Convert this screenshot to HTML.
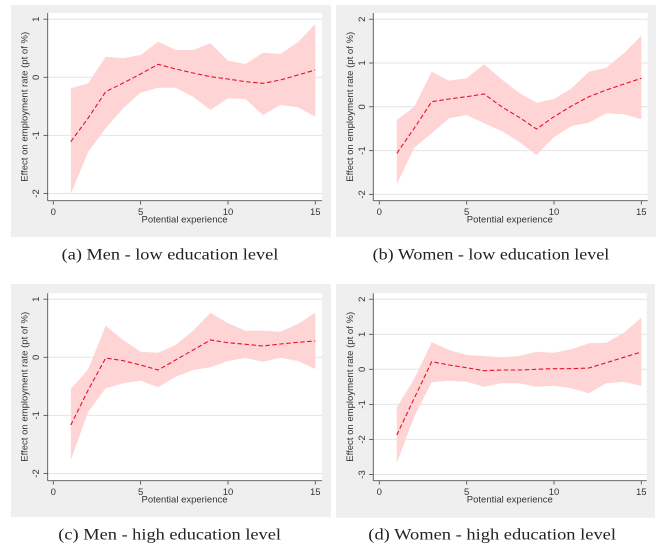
<!DOCTYPE html>
<html>
<head>
<meta charset="utf-8">
<style>
  html,body{margin:0;padding:0;background:#ffffff;}
  svg{display:block;}
  .tk{font-family:"Liberation Sans",Arial,sans-serif;font-size:9.5px;fill:#333;}
  .cap{font-family:"Liberation Serif","Times New Roman",serif;font-size:15.5px;fill:#222;}
  .band{fill:#ffd4d4;stroke:none;}
  .ctr{fill:none;stroke:#e8102a;stroke-width:1.1;stroke-dasharray:4.5 2.5;}
  .grid{stroke:#e4e4e4;stroke-width:1;}
  .ax{stroke:#555;stroke-width:0.9;fill:none;}
</style>
</head>
<body>
<svg width="665" height="552" viewBox="0 0 665 552" xmlns="http://www.w3.org/2000/svg">
  <rect x="0" y="0" width="665" height="552" fill="#ffffff"/>

  <!-- ================= Panel A ================= -->
  <rect x="11" y="5" width="320" height="232" fill="#efefef"/>
  <rect x="47.7" y="13" width="274.3" height="187.5" fill="#ffffff"/>
  <g class="grid">
    <line x1="47.7" y1="19.2" x2="322" y2="19.2"/>
    <line x1="47.7" y1="77.3" x2="322" y2="77.3"/>
    <line x1="47.7" y1="135.4" x2="322" y2="135.4"/>
    <line x1="47.7" y1="193.5" x2="322" y2="193.5"/>
  </g>
  <polygon class="band" points="70.8,88.3 88.2,83.3 105.7,56.7 123.2,58.3 140.6,55 158.1,41.7 175.6,50 193.1,50 210.5,43.3 228,60.7 245.5,64 262.9,52.7 280.4,54 297.9,42.3 315.3,24 315.3,116.7 297.9,107.3 280.4,105 262.9,115 245.5,99 228,98.3 210.5,110 193.1,96.7 175.6,87.7 158.1,87.7 140.6,92.7 123.2,108.3 105.7,128.3 88.2,151.7 70.8,194"/>
  <polyline class="ctr" points="70.8,141.7 88.2,118 105.7,91.7 123.2,83 140.6,74 158.1,64.3 175.6,69 193.1,73 210.5,76.7 228,79 245.5,81.7 262.9,83.3 280.4,80 297.9,75 315.3,70"/>
  <g class="ax">
    <line x1="47.7" y1="13" x2="47.7" y2="200.7"/>
    <line x1="43.5" y1="19.2" x2="47.7" y2="19.2"/>
    <line x1="43.5" y1="77.3" x2="47.7" y2="77.3"/>
    <line x1="43.5" y1="135.4" x2="47.7" y2="135.4"/>
    <line x1="43.5" y1="193.5" x2="47.7" y2="193.5"/>
    <line x1="47.7" y1="200.7" x2="322" y2="200.7"/>
    <line x1="53.3" y1="200.7" x2="53.3" y2="204.5"/>
    <line x1="140.6" y1="200.7" x2="140.6" y2="204.5"/>
    <line x1="228" y1="200.7" x2="228" y2="204.5"/>
    <line x1="315.3" y1="200.7" x2="315.3" y2="204.5"/>
  </g>
  <g class="tk" text-anchor="middle">
    <text x="53.3" y="215">0</text>
    <text x="140.6" y="215">5</text>
    <text x="228" y="215">10</text>
    <text x="315.3" y="215">15</text>
    <text x="184.5" y="222.5" textLength="86" lengthAdjust="spacingAndGlyphs">Potential experience</text>
    <text transform="translate(39,19.2) rotate(-90)">1</text>
    <text transform="translate(39,77.3) rotate(-90)">0</text>
    <text transform="translate(39,135.4) rotate(-90)">-1</text>
    <text transform="translate(39,193.5) rotate(-90)">-2</text>
    <text transform="translate(27.5,106.8) rotate(-90)" textLength="150" lengthAdjust="spacingAndGlyphs">Effect on employment rate (pt of %)</text>
  </g>
  <text class="cap" x="61.7" y="259.5" textLength="216.6" lengthAdjust="spacingAndGlyphs">(a) Men - low education level</text>

  <!-- ================= Panel B ================= -->
  <rect x="336" y="5" width="320" height="232" fill="#efefef"/>
  <rect x="373.3" y="13" width="274.4" height="187.5" fill="#ffffff"/>
  <g class="grid">
    <line x1="373.3" y1="19.2" x2="647.7" y2="19.2"/>
    <line x1="373.3" y1="63" x2="647.7" y2="63"/>
    <line x1="373.3" y1="106.8" x2="647.7" y2="106.8"/>
    <line x1="373.3" y1="150.6" x2="647.7" y2="150.6"/>
    <line x1="373.3" y1="194.4" x2="647.7" y2="194.4"/>
  </g>
  <polygon class="band" points="396.8,120 414.2,106.7 431.7,71.7 449.2,80.7 466.6,78.3 484.1,64.3 501.6,79.3 519.1,92.7 536.5,102.7 554,99 571.5,88.3 588.9,71.7 606.4,67.7 623.9,53.3 641.3,35.7 641.3,119.3 623.9,114.3 606.4,113.3 588.9,122.7 571.5,126 554,137.3 536.5,155 519.1,141.7 501.6,131 484.1,123.3 466.6,115 449.2,118.3 431.7,133.3 414.2,147.7 396.8,184.3"/>
  <polyline class="ctr" points="396.8,153.3 414.2,128.3 431.7,101.7 449.2,99 466.6,96.7 484.1,94 501.6,106.7 519.1,117.3 536.5,129 554,116.7 571.5,106 588.9,96.7 606.4,90 623.9,84 641.3,78.3"/>
  <g class="ax">
    <line x1="373.3" y1="13" x2="373.3" y2="200.7"/>
    <line x1="369.1" y1="19.2" x2="373.3" y2="19.2"/>
    <line x1="369.1" y1="63" x2="373.3" y2="63"/>
    <line x1="369.1" y1="106.8" x2="373.3" y2="106.8"/>
    <line x1="369.1" y1="150.6" x2="373.3" y2="150.6"/>
    <line x1="369.1" y1="194.4" x2="373.3" y2="194.4"/>
    <line x1="373.3" y1="200.7" x2="647.7" y2="200.7"/>
    <line x1="379.3" y1="200.7" x2="379.3" y2="204.5"/>
    <line x1="466.7" y1="200.7" x2="466.7" y2="204.5"/>
    <line x1="554" y1="200.7" x2="554" y2="204.5"/>
    <line x1="641.3" y1="200.7" x2="641.3" y2="204.5"/>
  </g>
  <g class="tk" text-anchor="middle">
    <text x="379.3" y="215">0</text>
    <text x="466.7" y="215">5</text>
    <text x="554" y="215">10</text>
    <text x="641.3" y="215">15</text>
    <text x="509.8" y="222.5" textLength="86" lengthAdjust="spacingAndGlyphs">Potential experience</text>
    <text transform="translate(365,19.2) rotate(-90)">2</text>
    <text transform="translate(365,63) rotate(-90)">1</text>
    <text transform="translate(365,106.8) rotate(-90)">0</text>
    <text transform="translate(365,150.6) rotate(-90)">-1</text>
    <text transform="translate(365,194.4) rotate(-90)">-2</text>
    <text transform="translate(353,106.8) rotate(-90)" textLength="150" lengthAdjust="spacingAndGlyphs">Effect on employment rate (pt of %)</text>
  </g>
  <text class="cap" x="372.7" y="259.5" textLength="236.6" lengthAdjust="spacingAndGlyphs">(b) Women - low education level</text>

  <!-- ================= Panel C ================= -->
  <rect x="11" y="284" width="320" height="233" fill="#efefef"/>
  <rect x="47.7" y="293.3" width="274.3" height="187.4" fill="#ffffff"/>
  <g class="grid">
    <line x1="47.7" y1="299.2" x2="322" y2="299.2"/>
    <line x1="47.7" y1="357.3" x2="322" y2="357.3"/>
    <line x1="47.7" y1="415.4" x2="322" y2="415.4"/>
    <line x1="47.7" y1="473.5" x2="322" y2="473.5"/>
  </g>
  <polygon class="band" points="70.8,389 88.2,369.3 105.7,325.7 123.2,340 140.6,351.7 158.1,352.7 175.6,345 193.1,330.7 210.5,312.7 228,323.3 245.5,330.7 262.9,330.7 280.4,331.7 297.9,324 315.3,312.7 315.3,369 297.9,361 280.4,357.7 262.9,361.7 245.5,358 228,361 210.5,367.3 193.1,370 175.6,376.7 158.1,387.3 140.6,380.7 123.2,383.3 105.7,388.3 88.2,411.7 70.8,460"/>
  <polyline class="ctr" points="70.8,425 88.2,390 105.7,358 123.2,360.7 140.6,365 158.1,370 175.6,360 193.1,350 210.5,340 228,342.7 245.5,344.3 262.9,346 280.4,344 297.9,342.3 315.3,341"/>
  <g class="ax">
    <line x1="47.7" y1="293.3" x2="47.7" y2="480.7"/>
    <line x1="43.5" y1="299.2" x2="47.7" y2="299.2"/>
    <line x1="43.5" y1="357.3" x2="47.7" y2="357.3"/>
    <line x1="43.5" y1="415.4" x2="47.7" y2="415.4"/>
    <line x1="43.5" y1="473.5" x2="47.7" y2="473.5"/>
    <line x1="47.7" y1="480.7" x2="322" y2="480.7"/>
    <line x1="53.3" y1="480.7" x2="53.3" y2="484.5"/>
    <line x1="140.6" y1="480.7" x2="140.6" y2="484.5"/>
    <line x1="228" y1="480.7" x2="228" y2="484.5"/>
    <line x1="315.3" y1="480.7" x2="315.3" y2="484.5"/>
  </g>
  <g class="tk" text-anchor="middle">
    <text x="53.3" y="495">0</text>
    <text x="140.6" y="495">5</text>
    <text x="228" y="495">10</text>
    <text x="315.3" y="495">15</text>
    <text x="184.5" y="502.5" textLength="86" lengthAdjust="spacingAndGlyphs">Potential experience</text>
    <text transform="translate(39,299.2) rotate(-90)">1</text>
    <text transform="translate(39,357.3) rotate(-90)">0</text>
    <text transform="translate(39,415.4) rotate(-90)">-1</text>
    <text transform="translate(39,473.5) rotate(-90)">-2</text>
    <text transform="translate(27.5,386.8) rotate(-90)" textLength="150" lengthAdjust="spacingAndGlyphs">Effect on employment rate (pt of %)</text>
  </g>
  <text class="cap" x="58.3" y="539.5" textLength="222.7" lengthAdjust="spacingAndGlyphs">(c) Men - high education level</text>

  <!-- ================= Panel D ================= -->
  <rect x="336" y="284" width="319" height="234" fill="#efefef"/>
  <rect x="373.3" y="293.3" width="273.4" height="187.4" fill="#ffffff"/>
  <g class="grid">
    <line x1="373.3" y1="299.2" x2="646.7" y2="299.2"/>
    <line x1="373.3" y1="334.3" x2="646.7" y2="334.3"/>
    <line x1="373.3" y1="369.3" x2="646.7" y2="369.3"/>
    <line x1="373.3" y1="404.4" x2="646.7" y2="404.4"/>
    <line x1="373.3" y1="439.4" x2="646.7" y2="439.4"/>
    <line x1="373.3" y1="474.5" x2="646.7" y2="474.5"/>
  </g>
  <polygon class="band" points="396.8,407.3 414.2,379 431.7,342.3 449.2,350 466.6,355 484.1,356 501.6,357.3 519.1,356 536.5,351.7 554,352.7 571.5,349.3 588.9,343.3 606.4,342.7 623.9,332.7 641.3,317.7 641.3,386 623.9,381.7 606.4,383.3 588.9,393.3 571.5,388.3 554,385.7 536.5,386.7 519.1,383.3 501.6,383.3 484.1,386.7 466.6,381.7 449.2,380.7 431.7,382.3 414.2,416.7 396.8,462.7"/>
  <polyline class="ctr" points="396.8,435 414.2,398.3 431.7,361.7 449.2,365 466.6,367.7 484.1,370.7 501.6,370 519.1,370 536.5,369.3 554,368.7 571.5,368.7 588.9,368 606.4,362.7 623.9,357.3 641.3,352"/>
  <g class="ax">
    <line x1="373.3" y1="293.3" x2="373.3" y2="480.7"/>
    <line x1="369.1" y1="299.2" x2="373.3" y2="299.2"/>
    <line x1="369.1" y1="334.3" x2="373.3" y2="334.3"/>
    <line x1="369.1" y1="369.3" x2="373.3" y2="369.3"/>
    <line x1="369.1" y1="404.4" x2="373.3" y2="404.4"/>
    <line x1="369.1" y1="439.4" x2="373.3" y2="439.4"/>
    <line x1="369.1" y1="474.5" x2="373.3" y2="474.5"/>
    <line x1="373.3" y1="480.7" x2="646.7" y2="480.7"/>
    <line x1="379.3" y1="480.7" x2="379.3" y2="484.5"/>
    <line x1="466.7" y1="480.7" x2="466.7" y2="484.5"/>
    <line x1="554" y1="480.7" x2="554" y2="484.5"/>
    <line x1="641.3" y1="480.7" x2="641.3" y2="484.5"/>
  </g>
  <g class="tk" text-anchor="middle">
    <text x="379.3" y="495">0</text>
    <text x="466.7" y="495">5</text>
    <text x="554" y="495">10</text>
    <text x="641.3" y="495">15</text>
    <text x="509.8" y="502.5" textLength="86" lengthAdjust="spacingAndGlyphs">Potential experience</text>
    <text transform="translate(365,299.2) rotate(-90)">2</text>
    <text transform="translate(365,334.3) rotate(-90)">1</text>
    <text transform="translate(365,369.3) rotate(-90)">0</text>
    <text transform="translate(365,404.4) rotate(-90)">-1</text>
    <text transform="translate(365,439.4) rotate(-90)">-2</text>
    <text transform="translate(365,474.5) rotate(-90)">-3</text>
    <text transform="translate(353,386.8) rotate(-90)" textLength="150" lengthAdjust="spacingAndGlyphs">Effect on employment rate (pt of %)</text>
  </g>
  <text class="cap" x="368.3" y="539.5" textLength="247.7" lengthAdjust="spacingAndGlyphs">(d) Women - high education level</text>
</svg>
</body>
</html>
